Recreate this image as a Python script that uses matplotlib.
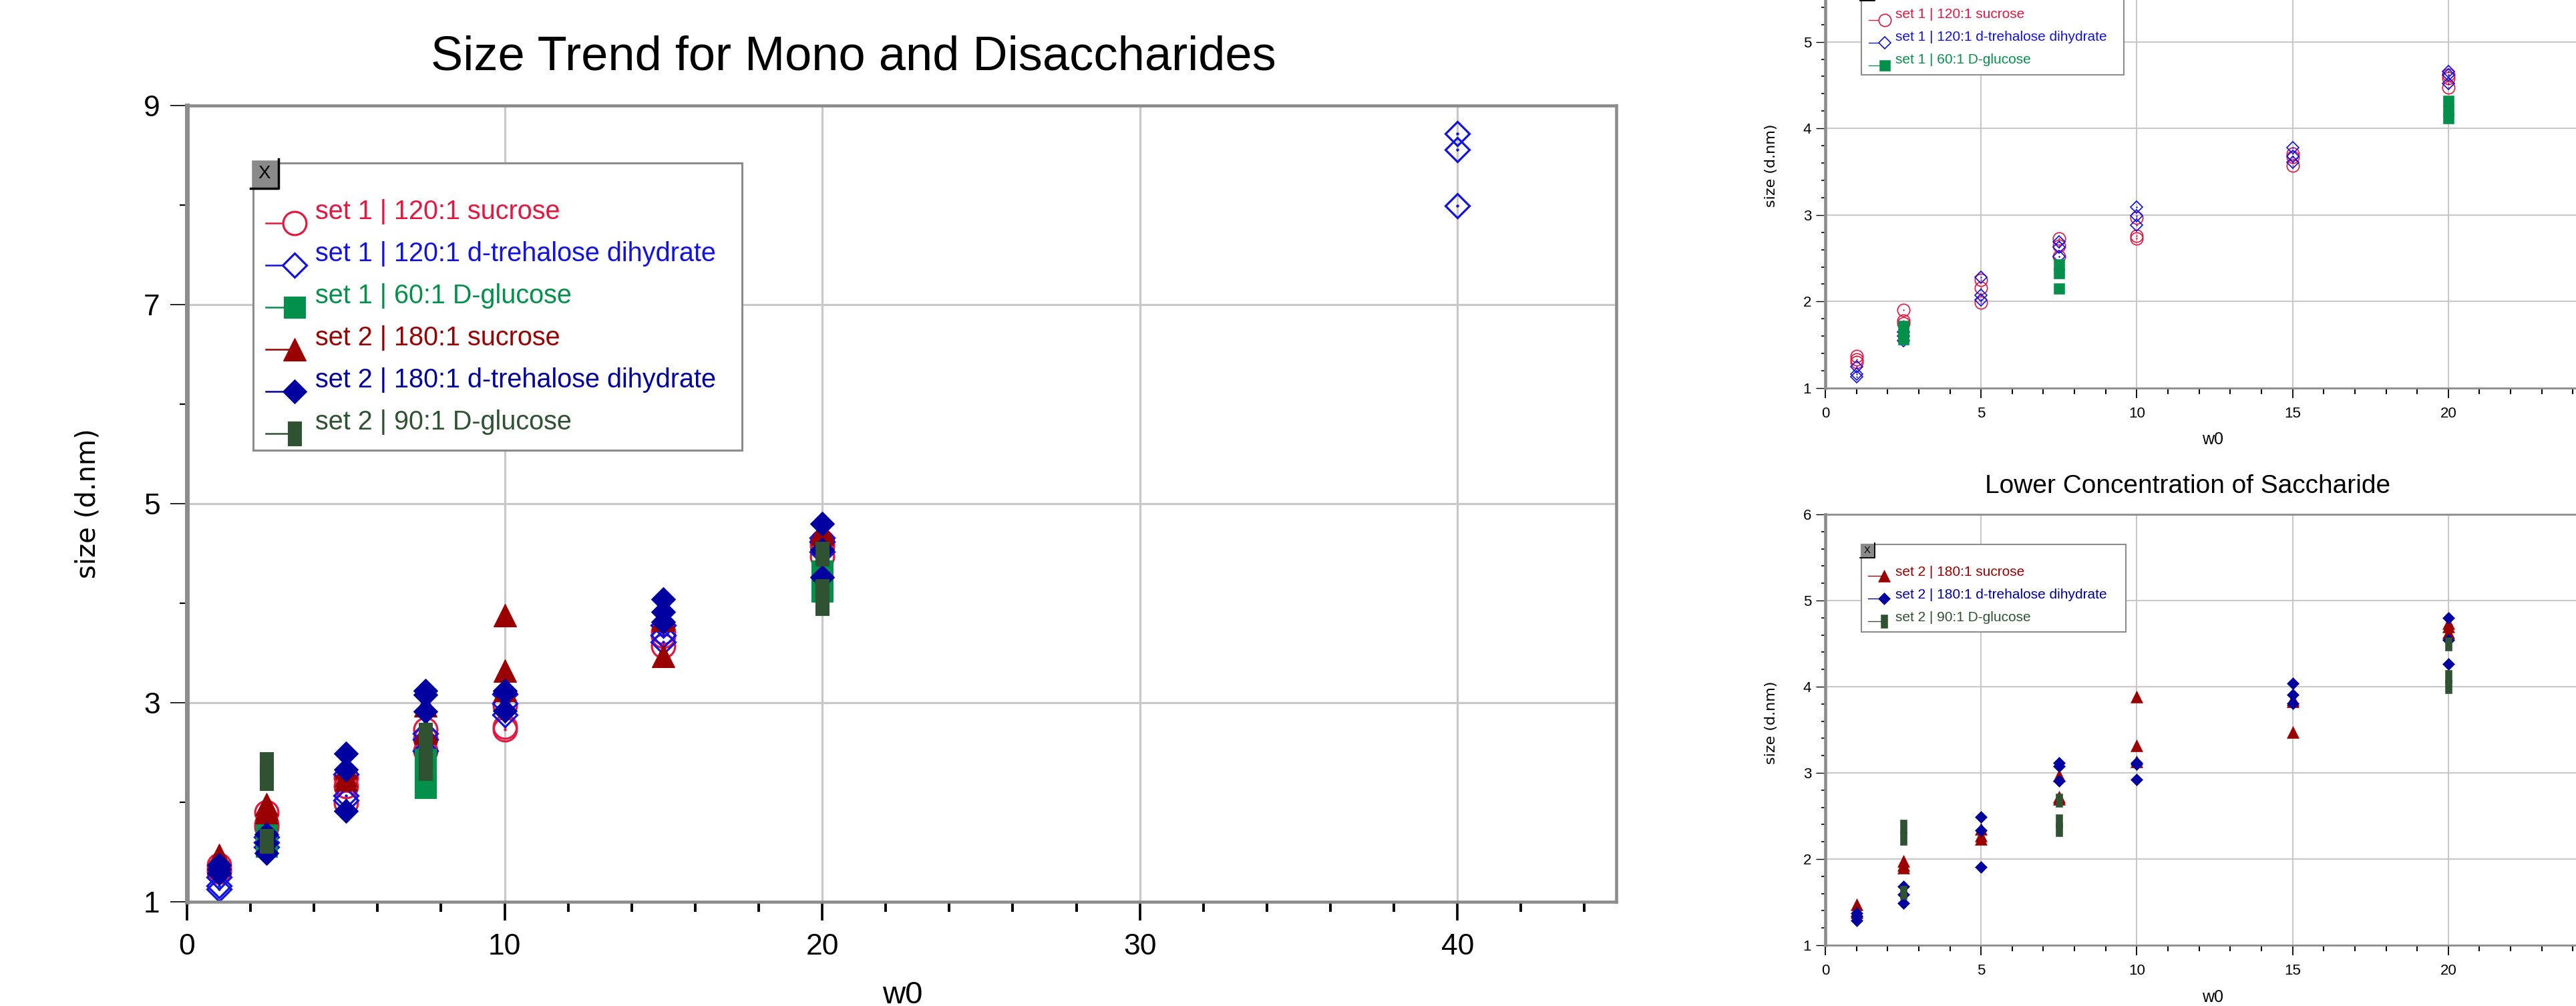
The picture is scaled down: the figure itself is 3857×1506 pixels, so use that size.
import numpy as np
import matplotlib
matplotlib.use("Agg")
import matplotlib.pyplot as plt
from matplotlib.lines import Line2D
from matplotlib.patches import Rectangle
from matplotlib.path import Path
from matplotlib.ticker import MultipleLocator

W, H = 3857, 1506  # output size in pixels
DPI = 100

plt.rcParams['font.family'] = ['Liberation Sans', 'DejaVu Sans']

# ---- data ----
w0 = [1, 2.5, 5, 7.5, 10, 15, 20]

s1_sucrose_w0 = w0
s1_sucrose = [[1.37, 1.33, 1.30], [1.90, 1.78, 1.75], [2.25, 2.16, 1.99],
              [2.73, 2.64, 2.52], [2.97, 2.76, 2.73], [3.71, 3.67, 3.57],
              [4.62, 4.58, 4.47]]

s1_trehalose_w0 = [1, 2.5, 5, 7.5, 10, 15, 20, 40]
s1_trehalose = [[1.25, 1.16, 1.13], [1.65, 1.60, 1.55], [2.28, 2.07, 2.02],
                [2.69, 2.63, 2.52], [3.09, 2.99, 2.88], [3.78, 3.68, 3.61],
                [4.66, 4.62, 4.52], [8.72, 8.56, 7.99]]

s1_glucose_w0 = [2.5, 7.5, 20]
s1_glucose = [[1.72, 1.62, 1.56], [2.43, 2.33, 2.15], [4.32, 4.20, 4.12]]

s2_sucrose_w0 = w0
s2_sucrose = [[1.47, 1.40, 1.38], [1.98, 1.93, 1.90], [2.35, 2.27, 2.23],
              [2.97, 2.72, 2.70], [3.88, 3.32, 3.13], [3.85, 3.83, 3.47],
              [4.74, 4.70, 4.63]]

s2_trehalose_w0 = w0
s2_trehalose = [[1.37, 1.33, 1.29], [1.68, 1.59, 1.49], [2.49, 2.33, 1.91],
                [3.12, 3.08, 2.91], [3.12, 3.10, 2.92], [4.04, 3.91, 3.81],
                [4.80, 4.54, 4.26]]

s2_glucose_w0 = [2.5, 7.5, 20]
s2_glucose = [[2.38, 2.24, 1.61], [2.68, 2.44, 2.34], [4.50, 4.12, 4.00]]

labels = ["set 1 | 120:1 sucrose", "set 1 | 120:1 d-trehalose dihydrate",
          "set 1 | 60:1 D-glucose", "set 2 | 180:1 sucrose",
          "set 2 | 180:1 d-trehalose dihydrate", "set 2 | 90:1 D-glucose"]
colors = ["#e5173f", "#1212e6", "#03904a", "#9b0000", "#0000a0", "#2f5233"]

main_xticks = [0, 10, 20, 30, 40]
main_yticks = [1, 3, 5, 7, 9]
side_xticks = [0, 5, 10, 15, 20]
side_yticks = [1, 2, 3, 4, 5, 6]

# tall thin bar marker for set 2 glucose
bar_marker = Path([(-0.28, -0.5), (0.28, -0.5), (0.28, 0.5), (-0.28, 0.5), (-0.28, -0.5)],
                  [Path.MOVETO, Path.LINETO, Path.LINETO, Path.LINETO, Path.CLOSEPOLY])

# marker, size in pt for the big chart, open?
styles = [("o", 25, True), ("D", 18, True), ("s", 23, False),
          ("^", 25, False), ("D", 18, False), (bar_marker, 26, False)]

series = [(s1_sucrose_w0, s1_sucrose), (s1_trehalose_w0, s1_trehalose),
          (s1_glucose_w0, s1_glucose), (s2_sucrose_w0, s2_sucrose),
          (s2_trehalose_w0, s2_trehalose), (s2_glucose_w0, s2_glucose)]


def flat(xv, yv):
    xs = np.repeat(xv, [len(v) for v in yv])
    ys = np.concatenate(yv)
    return xs, ys


fig = plt.figure(figsize=(W / DPI, H / DPI), dpi=DPI)


def fx(x):
    return x / W


def fy(y):
    return 1 - y / H


def axes_px(x0, y0, x1, y1):
    return fig.add_axes([fx(x0), fy(y1), (x1 - x0) / W, (y1 - y0) / H])


def draw_series(ax, idx, scale):
    xs, ys = flat(*series[idx])
    m, ms, hollow = styles[idx]
    c = colors[idx]
    if hollow:
        ax.plot(xs, ys, ls="none", marker=m, ms=ms * scale, mfc="none",
                mec=c, mew=2.3 * scale)
        ax.plot(xs, ys, ls="none", marker="o", ms=3.2 * scale, mfc=c, mec=c, mew=0)
    else:
        ax.plot(xs, ys, ls="none", marker=m, ms=ms * scale, mfc=c, mec=c,
                mew=0.8 * scale)


def draw_legend(idxs, box, base0, dy, text_x, mark_x, line_x0, mark_dy, fs, scale, xbox):
    l, t, r, b = box
    fig.add_artist(Rectangle((fx(l), fy(b)), (r - l) / W, (b - t) / H,
                             transform=fig.transFigure, fc="white",
                             ec="#8c8c8c", lw=2.2 * scale ** 0.6, zorder=5))
    for k, i in enumerate(idxs):
        yb = base0 + k * dy
        ym = yb + mark_dy
        m, ms, hollow = styles[i]
        c = colors[i]
        fig.add_artist(Line2D([fx(line_x0), fx(mark_x)], [fy(ym), fy(ym)],
                              transform=fig.transFigure, color=c,
                              lw=1.8 * scale, zorder=6))
        if hollow:
            fig.add_artist(Line2D([fx(mark_x)], [fy(ym)], transform=fig.transFigure,
                                  ls="none", marker=m, ms=ms * scale, mfc="white",
                                  mec=c, mew=2.3 * scale, zorder=7))
        else:
            fig.add_artist(Line2D([fx(mark_x)], [fy(ym)], transform=fig.transFigure,
                                  ls="none", marker=m, ms=ms * scale, mfc=c,
                                  mec=c, mew=0.8 * scale, zorder=7))
        fig.text(fx(text_x), fy(yb), labels[i], color=c, fontsize=fs,
                 ha="left", va="baseline", zorder=8)
    # little close box in the corner
    x0, y0, x1, y1 = xbox
    fig.add_artist(Rectangle((fx(x0), fy(y1)), (x1 - x0) / W, (y1 - y0) / H,
                             transform=fig.transFigure, fc="#8a8a8a",
                             ec="none", zorder=9))
    fig.add_artist(Line2D([fx(x0), fx(x0), fx(x1)], [fy(y1), fy(y0), fy(y0)],
                          transform=fig.transFigure, color="white",
                          lw=2.5 * scale, zorder=10))
    fig.add_artist(Line2D([fx(x0), fx(x1), fx(x1)], [fy(y1), fy(y1), fy(y0)],
                          transform=fig.transFigure, color="black",
                          lw=2.5 * scale, zorder=10))
    if y0 > 0:
        fig.text(fx((x0 + x1) / 2), fy((y0 + y1) / 2), "X", fontsize=20 * scale,
                 ha="center", va="center", color="black", zorder=11)


def style_axes(ax, big):
    for s in ax.spines.values():
        s.set_color("#8c8c8c")
        s.set_linewidth(3.3 if big else 2.0)
    ax.spines["left"].set_linewidth(5.0 if big else 3.3)
    ax.set_axisbelow(True)
    ax.grid(True, which="major", color="#c8c8c8", lw=2.3 if big else 1.5)
    ax.tick_params(top=False, right=False, which="both", direction="out", colors="black")
    if big:
        ax.tick_params(axis="x", which="major", length=20, width=2.6, pad=14, labelsize=32)
        ax.tick_params(axis="x", which="minor", length=11, width=2.8)
        ax.tick_params(axis="y", which="major", length=18, width=1.2, pad=11, labelsize=32)
        ax.tick_params(axis="y", which="minor", length=8, width=1.6)
    else:
        ax.tick_params(axis="x", which="major", length=11, width=1.3, pad=9, labelsize=16)
        ax.tick_params(axis="x", which="minor", length=6.5, width=1.5)
        ax.tick_params(axis="y", which="major", length=10, width=1.0, pad=5, labelsize=16)
        ax.tick_params(axis="y", which="minor", length=4, width=1.2)


# ---- big chart: all six series ----
ax = axes_px(280, 158, 2420, 1350)
for i in range(6):
    draw_series(ax, i, 1.0)
ax.set_xlim(0, 45)
ax.set_ylim(1, 9)
ax.set_xticks(main_xticks)
ax.xaxis.set_minor_locator(MultipleLocator(2))
ax.set_yticks(main_yticks)
ax.yaxis.set_minor_locator(MultipleLocator(1))
style_axes(ax, True)
fig.text(fx(1278), fy(86), "Size Trend for Mono and Disaccharides", fontsize=52,
         ha="center", va="center")
fig.text(fx(132), fy(754), "size (d.nm)", rotation=90, fontsize=29,
         family="DejaVu Sans", ha="center", va="center")
fig.text(fx(1351), fy(1490), "w0", fontsize=34, ha="center", va="center")
draw_legend(range(6), (379, 244, 1111, 674), 328, 63, 472, 441, 398, 6, 28.5, 1.0,
            (375, 238, 417, 282))

# ---- top right: set 1 only ----
ax1 = axes_px(2733, -67, 3899, 581)
for i in range(3):
    draw_series(ax1, i, 0.53)
ax1.set_xlim(0, 25)
ax1.set_ylim(1, 6)
ax1.set_xticks(side_xticks)
ax1.xaxis.set_minor_locator(MultipleLocator(1))
ax1.set_yticks(side_yticks[:-1])
ax1.yaxis.set_minor_locator(MultipleLocator(0.2))
style_axes(ax1, False)
ax1.axhline(6, color="#c8c8c8", lw=1.5, zorder=0)
fig.text(fx(2652), fy(248), "size (d.nm)", rotation=90, fontsize=16,
         family="DejaVu Sans", ha="center", va="center")
fig.text(fx(3313), fy(658), "w0", fontsize=18, ha="center", va="center")
draw_legend(range(3), (2787, -19, 3180, 112), 27, 34, 2838, 2822, 2798, 3, 15, 0.53,
            (2785, -21, 2807, 1))

# ---- bottom right: set 2 only ----
ax2 = axes_px(2733, 770, 3899, 1415)
for i in range(3, 6):
    draw_series(ax2, i, 0.53)
ax2.set_xlim(0, 25)
ax2.set_ylim(1, 6)
ax2.set_xticks(side_xticks)
ax2.xaxis.set_minor_locator(MultipleLocator(1))
ax2.set_yticks(side_yticks)
ax2.yaxis.set_minor_locator(MultipleLocator(0.2))
style_axes(ax2, False)
fig.text(fx(3276), fy(728), "Lower Concentration of Saccharide", fontsize=28,
         ha="center", va="center")
fig.text(fx(2652), fy(1082), "size (d.nm)", rotation=90, fontsize=16,
         family="DejaVu Sans", ha="center", va="center")
fig.text(fx(3313), fy(1493), "w0", fontsize=18, ha="center", va="center")
draw_legend(range(3, 6), (2787, 815, 3183, 946), 862, 34, 2838, 2821, 2797, 0, 15, 0.53,
            (2785, 813, 2807, 835))

fig.savefig("out.png", dpi=DPI)
